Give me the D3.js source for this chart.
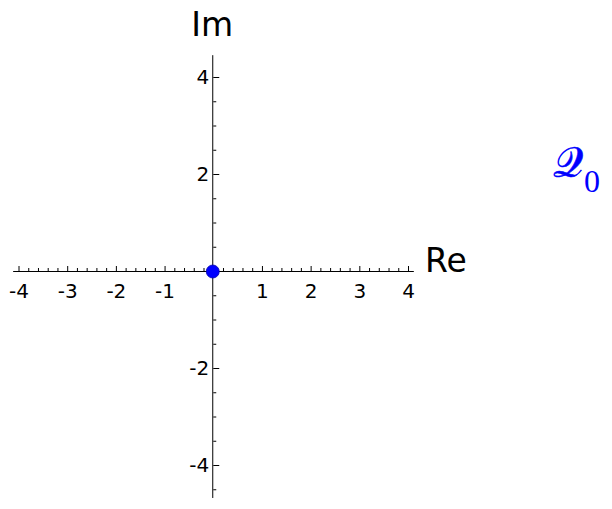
<!DOCTYPE html>
<html><head><meta charset="utf-8">
<script src="https://cdn.jsdelivr.net/npm/d3@7"></script>
<style>body{margin:0;background:#fff}svg{display:block}</style>
</head><body>
<svg id="c" width="612" height="509"></svg>
<script>
const xMajorTicks = [-4, -3, -2, -1, 1, 2, 3, 4];
const yMajorTicks = [-4, -2, 2, 4];
const xMinorStep = 0.2;
const yMinorStep = 0.5;
const xExtent = [-4.11, 4.12];
const yExtent = [-4.68, 4.45];
const points = [{re: 0, im: 0}];
const axisLabels = {x: "Re", y: "Im"};
const seriesLabel = {main: "\u{1D4AC}", sub: "0"};

const svg = d3.select("#c");
const x = d3.scaleLinear().domain([-4, 4]).range([18.5, 408]);
const y = d3.scaleLinear().domain([-4, 4]).range([465, 77]);

function range(a, b, s){const r=[];for(let v=Math.ceil(a/s-1e-9);v*s<=b+1e-9;v++){const t=+(v*s).toFixed(6);r.push(t);}return r;}
const xMinor = range(xExtent[0], xExtent[1], xMinorStep).filter(v=>Math.abs(v-Math.round(v))>1e-6);
const yMinor = range(yExtent[0], yExtent[1], yMinorStep).filter(v=>Math.abs(v/2-Math.round(v/2))>1e-6);

const font = "'DejaVu Sans', sans-serif";

// x axis
const gx = svg.append("g").attr("transform", `translate(0,${y(0)})`);
gx.call(d3.axisBottom(x).tickValues(xMinor).tickSize(-3).tickFormat(""));
gx.call(g=>g.select(".domain").remove());
const gx2 = svg.append("g").attr("transform", `translate(0,${y(0)})`);
gx2.call(d3.axisBottom(x).tickValues(xMajorTicks).tickSize(-5).tickPadding(0).tickFormat(d=>String(d)));
gx2.select(".domain").remove();
gx2.selectAll("text").attr("font-family", font).attr("font-size", 20).attr("dy", null).attr("y", 27).attr("fill", "#000");
svg.append("line").attr("x1", x(xExtent[0])).attr("x2", x(xExtent[1])).attr("y1", y(0)+0.5).attr("y2", y(0)+0.5).attr("stroke", "#000").attr("stroke-width", 1);

// y axis
const gy = svg.append("g").attr("transform", `translate(${x(0)},0)`);
gy.call(d3.axisLeft(y).tickValues(yMinor).tickSize(-3).tickFormat(""));
gy.select(".domain").remove();
const gy2 = svg.append("g").attr("transform", `translate(${x(0)},0)`);
gy2.call(d3.axisLeft(y).tickValues(yMajorTicks).tickSize(-6).tickPadding(4).tickFormat(d=>String(d)));
gy2.select(".domain").remove();
gy2.selectAll("text").attr("font-family", font).attr("font-size", 20).attr("fill", "#000");
svg.append("line").attr("x1", x(0)-0.5).attr("x2", x(0)-0.5).attr("y1", y(yExtent[1])).attr("y2", y(yExtent[0])).attr("stroke", "#000").attr("stroke-width", 1);

svg.selectAll(".tick line").attr("stroke", "#000");

// axis labels
svg.append("text").attr("x", x(0)-1).attr("y", 36).attr("text-anchor", "middle")
  .attr("font-family", font).attr("font-size", 33).text(axisLabels.y);
svg.append("text").attr("x", 425).attr("y", 272)
  .attr("font-family", font).attr("font-size", 33).text(axisLabels.x);

// point
svg.selectAll("circle.pt").data(points).join("circle").attr("class","pt")
  .attr("cx", d=>x(d.re)-0.5).attr("cy", d=>y(d.im)+0.5).attr("r", 6.5)
  .attr("fill", "#0000ff").attr("stroke", "#0000b0").attr("stroke-width", 0.8);

// series label
const t = svg.append("text").attr("fill", "#0000ff");
t.append("tspan").attr("x", 553).attr("y", 177)
  .attr("font-family", "'DejaVu Serif', 'Noto Sans', serif").attr("font-size", 42)
  .attr("stroke", "#0000ff").attr("stroke-width", 0.6).text(seriesLabel.main);
t.append("tspan").attr("x", 584).attr("y", 192)
  .attr("font-family", "'Liberation Serif', serif").attr("font-size", 32).text(seriesLabel.sub);
</script>
</body></html>
